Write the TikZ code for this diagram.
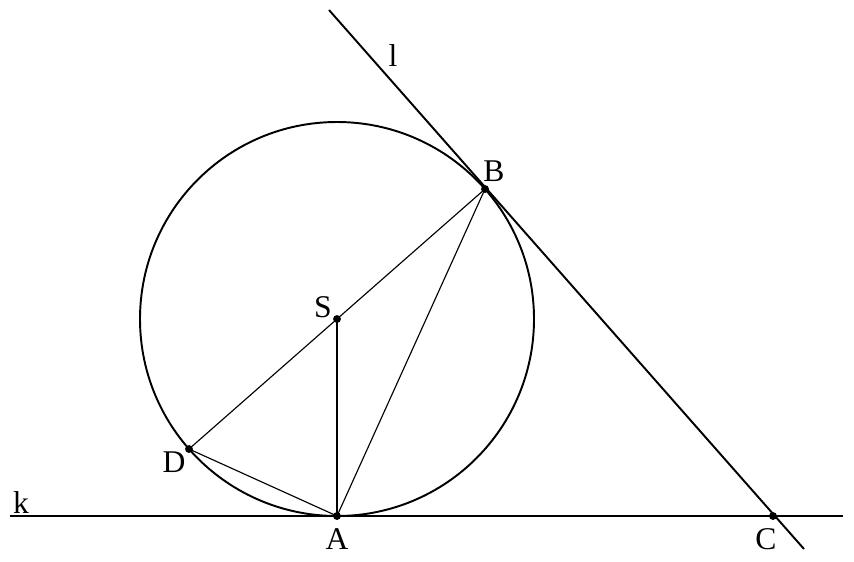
\documentclass[tikz,border=0pt]{standalone}
\usepackage{fontspec}
\setmainfont{Liberation Serif}
\usetikzlibrary{calc}
\begin{document}
\begin{tikzpicture}[x=0.02cm,y=-0.02cm,
  thickline/.style={line width=1.1pt},
  thinline/.style={line width=0.65pt},
  pt/.style={circle,fill=black,inner sep=0pt,minimum size=4.5pt},
  lbl/.style={font=\fontsize{18}{21}\selectfont,inner sep=0pt}]
\useasboundingbox (0,0) rectangle (854,561);
% points
\coordinate (S) at (337,319);
\coordinate (A) at (337,516);
\coordinate (B) at (485,189);
\coordinate (D) at (189,449);
\coordinate (C) at (773,516);
\coordinate (k1) at (10,516);
\coordinate (k2) at (843,516);
\coordinate (l1) at (329,10);
\coordinate (l2) at (804,549);
% circle
\draw[thickline] (S) circle[radius=197];
% lines
\draw[thickline] (k1) -- (k2);
\draw[thickline] (l1) -- (l2);
\draw[thinline] (D) -- (B);
\draw[thinline] (S) -- (A);
\draw[thinline] (A) -- (B);
\draw[thinline] (D) -- (A);
% dots
\foreach \p in {S,A,B,D,C} \node[pt] at (\p) {};
% labels
\node[lbl] (lS) at (323,307) {S};
\node[lbl] (lB) at (494,171) {B};
\node[lbl] (lD) at (174,462) {D};
\node[lbl] (lA) at (337,539) {A};
\node[lbl] (lC) at (766,539) {C};
\node[lbl] (lk) at (21,503) {k};
\node[lbl] (ll) at (393,56) {l};
\end{tikzpicture}
\end{document}
